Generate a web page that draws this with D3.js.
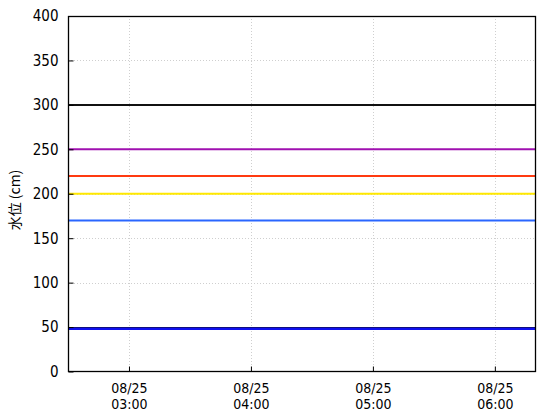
<!DOCTYPE html>
<html><head><meta charset="utf-8">
<script src="https://cdn.jsdelivr.net/npm/d3@7"></script>
<style>
html,body{margin:0;padding:0;background:#fff;}
text{font-family:"Noto Sans CJK JP","DejaVu Sans",sans-serif;}
text.num{font-family:"Liberation Sans Narrow","DejaVu Sans Condensed","Liberation Sans",sans-serif;}
</style></head>
<body><svg id="c" width="560" height="420"></svg>
<script>
// ---- data ----
const timeLabels = ["2023-08-25T02:30","2023-08-25T02:40","2023-08-25T02:50","2023-08-25T03:00","2023-08-25T03:10","2023-08-25T03:20","2023-08-25T03:30","2023-08-25T03:40","2023-08-25T03:50","2023-08-25T04:00","2023-08-25T04:10","2023-08-25T04:20","2023-08-25T04:30","2023-08-25T04:40","2023-08-25T04:50","2023-08-25T05:00","2023-08-25T05:10","2023-08-25T05:20","2023-08-25T05:30","2023-08-25T05:40","2023-08-25T05:50","2023-08-25T06:00","2023-08-25T06:10","2023-08-25T06:20"];
const waterLevel = [48,48,48,48,48,48,48,48,48,48,48,48,48,48,48,48,48,48,48,48,48,48,48,48];
const refLevels = [300, 250, 220, 200, 170, 49];
const refColors = ["#111111", "#a010b0", "#ff3a10", "#ffe800", "#2a66ff", "#101010"];
const yTicks = [0,50,100,150,200,250,300,350,400];
const xTickTimes = ["2023-08-25T03:00","2023-08-25T04:00","2023-08-25T05:00","2023-08-25T06:00"];
const yLabel = "水位 (cm)";

const parse = d3.timeParse("%Y-%m-%dT%H:%M");
const svg = d3.select("#c");
const L = 68, R = 535.5, T = 16, B = 371.5;
const x = d3.scaleTime().domain([parse(timeLabels[0]), parse(timeLabels[timeLabels.length-1])]).range([L, R]);
const y = d3.scaleLinear().domain([0, 400]).range([B, T]);
const xt = xTickTimes.map(parse);

// grid
const g = svg.append("g");
g.selectAll("line.gy").data(yTicks.filter(v => v > 0 && v < 400)).enter().append("line")
  .attr("x1", L).attr("x2", R).attr("y1", d => Math.round(y(d)) + 0.5).attr("y2", d => Math.round(y(d)) + 0.5)
  .attr("stroke", "#cfcfcf").attr("stroke-dasharray", "1,2");
g.selectAll("line.gx").data(xt).enter().append("line")
  .attr("y1", T).attr("y2", B).attr("x1", d => Math.round(x(d)) + 0.5).attr("x2", d => Math.round(x(d)) + 0.5)
  .attr("stroke", "#cfcfcf").attr("stroke-dasharray", "1,2");

// reference lines
svg.selectAll("line.ref").data(refLevels).enter().append("line")
  .attr("x1", L).attr("x2", R).attr("y1", d => y(d)).attr("y2", d => y(d))
  .attr("stroke", (d, i) => refColors[i]).attr("stroke-width", 2);

// water level line
const line = d3.line().x((d, i) => x(parse(timeLabels[i]))).y(d => y(d));
svg.append("path").datum(waterLevel).attr("d", line)
  .attr("fill", "none").attr("stroke", "#1010ee").attr("stroke-width", 2.5);

// axes
const yAxis = d3.axisLeft(y).tickValues(yTicks).tickSize(-5).tickPadding(10).tickFormat(d3.format("d"));
const ya = svg.append("g").attr("transform", `translate(${L + 0.5},0)`).call(yAxis);
ya.select(".domain").remove();
ya.selectAll("text").attr("class", "num").attr("font-size", 15).attr("fill", "#000");
ya.selectAll("line").attr("stroke", "#000");

const xAxis = d3.axisBottom(x).tickValues(xt).tickSize(-5).tickPadding(10).tickFormat(() => "");
const xa = svg.append("g").attr("transform", `translate(0,${B})`).call(xAxis);
xa.select(".domain").remove();
xa.selectAll("line").attr("stroke", "#000");
xa.selectAll(".tick").each(function(d) {
  const tk = d3.select(this);
  tk.select("text").remove();
  tk.append("text").attr("class", "num").attr("text-anchor", "middle").attr("font-size", 14).attr("fill", "#000")
    .attr("y", 21).text(d3.timeFormat("%m/%d")(d));
  tk.append("text").attr("class", "num").attr("text-anchor", "middle").attr("font-size", 14).attr("fill", "#000")
    .attr("y", 37).text(d3.timeFormat("%H:%M")(d));
});

// frame
svg.append("rect").attr("x", L + 0.5).attr("y", T + 0.5).attr("width", R - L - 0.5).attr("height", B - T - 0.5)
  .attr("fill", "none").attr("stroke", "#000").attr("stroke-width", 1.3);

// y label
svg.append("text").attr("transform", `translate(20,200) rotate(-90)`).attr("text-anchor", "middle")
  .attr("font-size", 14).attr("fill", "#000").attr("xml:space", "preserve").text(yLabel);
</script></body></html>
